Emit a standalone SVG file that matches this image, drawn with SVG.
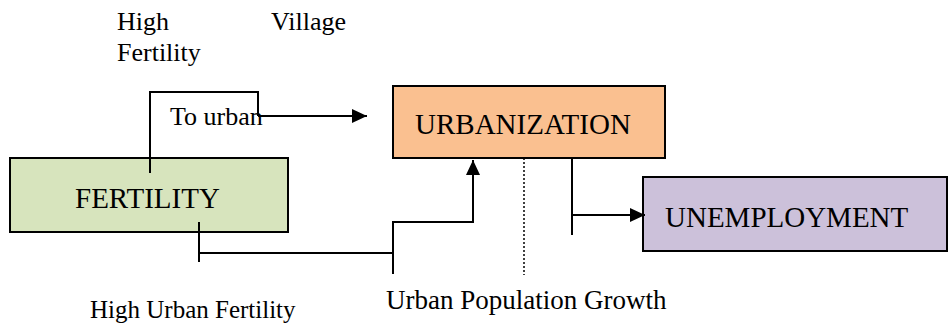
<svg xmlns="http://www.w3.org/2000/svg" width="948" height="323" viewBox="0 0 948 323">
<style>
  .box{stroke:#000;stroke-width:2}
  .lbl{font-family:"Liberation Serif","Times New Roman",serif;font-size:29px;fill:#000}
  .txt{font-family:"Liberation Serif","Times New Roman",serif;font-size:26px;fill:#000}
  .ln{fill:none;stroke:#000;stroke-width:2}
  .dot{fill:none;stroke:#000;stroke-width:1.5;stroke-dasharray:2 2}
</style>
<defs>
  <marker id="arr" markerWidth="16" markerHeight="14" refX="15" refY="7" orient="auto" markerUnits="userSpaceOnUse">
    <path d="M0,0 L15,7 L0,14 Z" fill="#000"/>
  </marker>
</defs>
<rect width="948" height="323" fill="#fff"/>
<g id="fertility">
  <rect class="box" x="10" y="158" width="278" height="74" fill="#d7e4bd"/>
  <text class="lbl" x="75" y="208">FERTILITY</text>
</g>
<g id="urbanization">
  <rect class="box" x="393" y="86" width="272" height="72" fill="#fac090"/>
  <text class="lbl" x="415" y="134">URBANIZATION</text>
</g>
<g id="unemployment">
  <rect class="box" x="643" y="177" width="304" height="74" fill="#ccc1da"/>
  <text class="lbl" x="665" y="227">UNEMPLOYMENT</text>
</g>
<g id="labels">
  <text class="txt" x="117" y="30">High</text>
  <text class="txt" x="117" y="61">Fertility</text>
  <text class="txt" x="271" y="30">Village</text>
  <text class="txt" x="170" y="125">To urban</text>
  <text class="txt" x="90" y="318" style="font-size:25px">High Urban Fertility</text>
  <text class="txt" x="386" y="309" style="font-size:27px">Urban Population Growth</text>
</g>
<g id="connectors">
  <polyline class="ln" points="150,173 150,92 258,92 258,116"/>
  <line class="ln" x1="258" y1="116" x2="367" y2="116" marker-end="url(#arr)"/>
  <polyline class="ln" points="199,222 199,262"/>
  <polyline class="ln" points="199,253 393,253"/>
  <polyline class="ln" points="393,274 393,222 473,222 473,160" marker-end="url(#arr)"/>
  <line class="dot" x1="524" y1="158" x2="524" y2="275"/>
  <line class="ln" x1="572" y1="158" x2="572" y2="235"/>
  <line class="ln" x1="572" y1="215" x2="645" y2="215" marker-end="url(#arr)"/>
</g>
</svg>
